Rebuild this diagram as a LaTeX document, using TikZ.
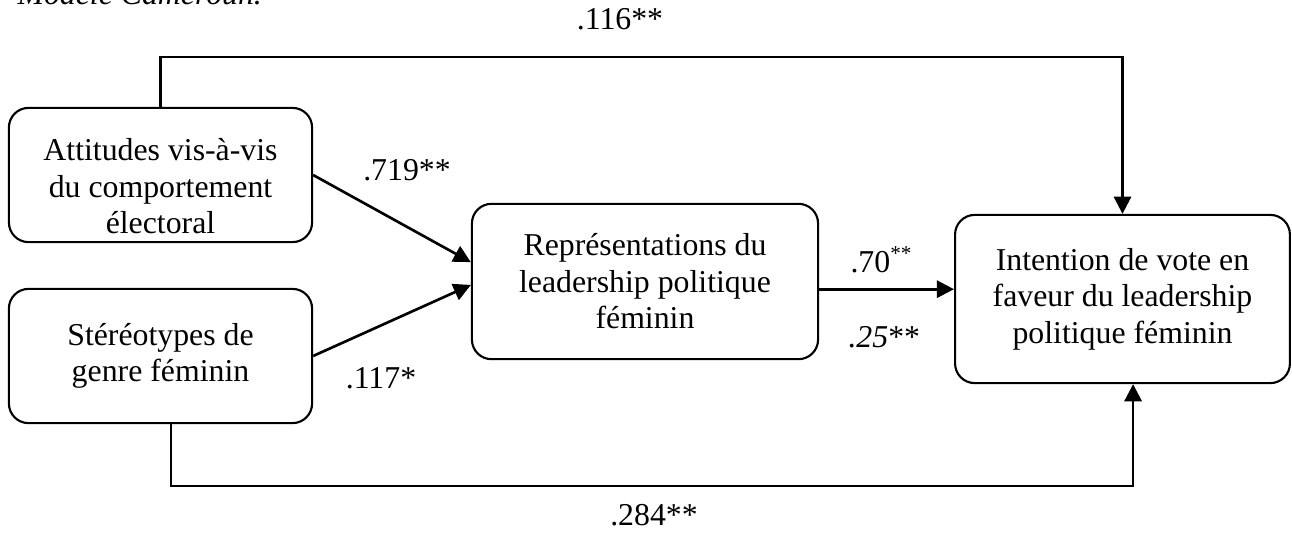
\documentclass[tikz,border=0pt]{standalone}
\usepackage{fontspec}
\setmainfont{Liberation Serif}
\usetikzlibrary{arrows.meta}

\begin{document}
\begin{tikzpicture}[x=0.01326cm,y=-0.01326cm,
  box/.style={draw,line width=0.8pt,rounded corners=2.6mm,align=center,inner sep=0pt,font=\fontsize{12}{13.8}\selectfont},
  arr/.style={line width=1pt,-{Triangle[length=6.5pt,width=6.5pt]}},
  lbl/.style={font=\fontsize{12}{13.8}\selectfont,anchor=base,inner sep=0pt}]

\useasboundingbox (0,0) rectangle (1292,542);

%caption (cut at the top)
\node[lbl,anchor=base west,font=\fontsize{12}{13.8}\selectfont\itshape] (titre) at (17,4) {Modèle Cameroun.};

%boxes
\node[box,minimum width=4.02cm,minimum height=1.78cm] (att) at (160.5,175) {\rule{0pt}{17pt}Attitudes vis-à-vis\\du comportement\\électoral};
\node[box,minimum width=4.02cm,minimum height=1.78cm] (ster) at (160.5,356) {Stéréotypes de\\genre féminin};
\node[box,minimum width=4.59cm,minimum height=2.06cm] (rep) at (645,281.5) {Représentations du\\leadership politique\\féminin};
\node[box,minimum width=4.44cm,minimum height=2.23cm] (int) at (1122.5,299) {Intention de vote en\\faveur du leadership\\politique féminin};

\coordinate (haut) at (620,57);
\coordinate (bas) at (650,486);
\coordinate (rout) at ([yshift=-2.9pt]rep.east);

%paths
\draw[arr] (att.east) -- ([yshift=7.3pt]rep.west);
\draw[arr] (ster.east) -- ([yshift=-1.3pt]rep.west);
\draw[arr] (rout) -- (rout -| int.west);
\draw[arr] (att.north) |- (haut) -| (int.north); %direct, top
\draw[arr] ([xshift=4pt]ster.south) |- (bas) -| ([xshift=4pt]int.south); %direct, bottom

%weights
\node[lbl] (w116) at (620,29) {.116**};
\node[lbl] (w719) at (407,180) {.719**};
\node[lbl] (w117) at (381,388) {.117*};
\node[lbl,anchor=base west] (w70) at (850,272) {.70\textsuperscript{**}};
\node[lbl,anchor=base west] (w25) at (848,347) {\textit{.25}**};
\node[lbl] (w284) at (654,525) {.284**};

\end{tikzpicture}
\end{document}
